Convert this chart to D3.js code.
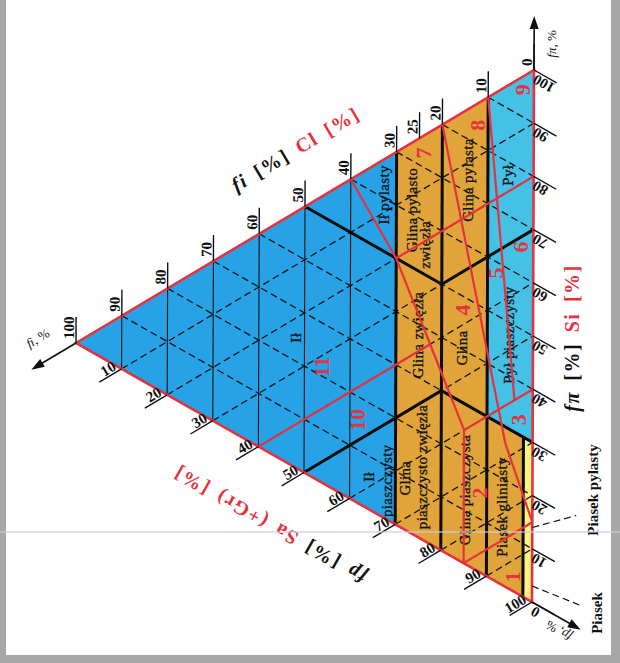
<!DOCTYPE html>
<html>
<head>
<meta charset="utf-8">
<script src="https://cdn.jsdelivr.net/npm/d3@7"></script>
<style>
  body { margin: 0; background: #fff; }
  svg { display: block; }
  text { font-family: "Liberation Serif", "DejaVu Serif", serif; }
</style>
</head>
<body>
<div id="chart"></div>
<script>
const width = 620, height = 663;

// ---------- data (all points are [clay fi, silt fπ, sand fp] in %) ----------
const gridSteps = [10, 20, 30, 40, 50, 60, 70, 80, 90];
const clayTicks = [100, 90, 80, 70, 60, 50, 40, 30, 25, 20, 10, 0];
const siltTicks = [100, 90, 80, 70, 60, 50, 40, 30, 20, 10, 0];
const sandTicks = [10, 20, 30, 40, 50, 60, 70, 80, 90, 100];

// PN-B-02480 soil groups (coloured fields)
const pnZones = [
  { group: "ił",     pts: [[100, 0, 0], [30, 70, 0], [30, 0, 70]] },
  { group: "glina",  pts: [[30, 70, 0], [10, 90, 0], [10, 0, 90], [30, 0, 70]] },
  { group: "glina",  pts: [[10, 30, 60], [2, 30, 68], [2, 0, 98], [10, 0, 90]] },
  { group: "pył",    pts: [[10, 90, 0], [0, 100, 0], [0, 30, 70], [10, 30, 60]] },
  { group: "piasek", pts: [[2, 30, 68], [0, 30, 70], [0, 0, 100], [2, 0, 98]] }
];

// PN-B-02480 boundaries (thick black)
const pnBounds = [
  [[30, 70, 0], [30, 0, 70]],
  [[20, 80, 0], [20, 0, 80]],
  [[10, 90, 0], [10, 0, 90]],
  [[2, 30, 68], [2, 0, 98]],
  [[50, 50, 0], [20, 50, 30], [0, 70, 30]],
  [[50, 0, 50], [20, 30, 50], [0, 30, 70]]
];

// PN-EN ISO 14688-2 boundaries (red)
const isoBounds = [
  [[40, 60, 0], [30, 50, 20], [22.5, 37.5, 40], [15, 25, 60], [15, 0, 85]],
  [[30, 50, 20], [0, 80, 20]],
  [[60, 0, 40], [22.5, 37.5, 40]],
  [[15, 25, 60], [0, 40, 60]],
  [[20, 80, 0], [6, 27, 67], [0, 15, 85]],
  [[10, 90, 0], [4, 36, 60]],
  [[15, 0, 85], [0, 15, 85]]
];

// PN soil names and where they sit
const pnNames = [
  { name: "Ił", at: [51.9, 24.4, 23.7] },
  { name: "Ił pylasty", at: [32.7, 60.6, 6.7] },
  { name: "Ił", at: [35.8, 6.1, 58.1] },
  { name: "piaszczysty", at: [31.8, 7.3, 60.9] },
  { name: "Glina pylasto", at: [26.6, 60.7, 12.7] },
  { name: "zwięzła", at: [23.7, 55.6, 20.7] },
  { name: "Glina pylasta", at: [14.4, 72.3, 13.3] },
  { name: "Pył", at: [5.6, 77.5, 16.9] },
  { name: "Glina zwięzła", at: [25.2, 37.9, 36.9] },
  { name: "Glina", at: [15.5, 40.2, 44.3] },
  { name: "Pył piaszczysty", at: [5.3, 47.6, 47.1] },
  { name: "Glina", at: [27.9, 9.7, 62.4] },
  { name: "piaszczysto zwięzła", at: [24.2, 13.6, 62.2] },
  { name: "Glina piaszczysta", at: [14.7, 13.9, 71.4] },
  { name: "Piasek gliniasty", at: [6.7, 14.6, 78.7] }
];

// ISO field numbers
const isoNumbers = [
  { n: "1", at: [4.2, 2.7, 93.1] },
  { n: "2", at: [11.5, 14.9, 73.6] },
  { n: "3", at: [3, 32.8, 64.2] },
  { n: "4", at: [15.4, 47.4, 37.2] },
  { n: "5", at: [8.3, 57.8, 33.9] },
  { n: "6", at: [2.9, 65.3, 31.8] },
  { n: "7", at: [24.2, 72.6, 3.2] },
  { n: "8", at: [12.4, 83.6, 4] },
  { n: "9", at: [2.4, 95.1, 2.5] },
  { n: "10", at: [38.4, 15.5, 46.1] },
  { n: "11", at: [46.2, 21.7, 32.1] }
];

// sand leaders outside the right edge
const sandLeaders = [
  { name: "Piasek pylasty", at: [0, 14, 86] },
  { name: "Piasek", at: [0, 3, 97] }
];

// ---------- styles ----------
const red = "#e6323e";
const zoneColour = { "ił": "#27a2e6", "glina": "#e0a43a", "pył": "#45c1e6", "piasek": "#fcf383" };

// triangle corners on screen (clay 100, silt 100, sand 100)
const A = [76, 343], B = [534, 70], C = [532, 602];

const siltScale = d3.scaleLinear().domain([0, 100]).range([[0, 0], [B[0] - A[0], B[1] - A[1]]]);
const sandScale = d3.scaleLinear().domain([0, 100]).range([[0, 0], [C[0] - A[0], C[1] - A[1]]]);
const proj = ([, si, sa]) => {
  const a = siltScale(si), ax = a[0], ay = a[1];
  const b = sandScale(sa);
  return [A[0] + ax + b[0], A[1] + ay + b[1]];
};
const line = d3.line();
const unit = (p, q) => { const dx = q[0] - p[0], dy = q[1] - p[1], l = Math.hypot(dx, dy); return [dx / l, dy / l]; };
const deg = u => Math.atan2(u[1], u[0]) * 180 / Math.PI;

const svg = d3.select("#chart").append("svg")
  .attr("width", width).attr("height", height);

// scanned page edges
svg.append("rect").attr("width", width).attr("height", height).attr("fill", "#a7a7a7");
svg.append("rect").attr("x", 6).attr("y", 0).attr("width", 605).attr("height", 655).attr("fill", "#fff");

// coloured fields
svg.append("g").selectAll("path")
  .data(pnZones)
  .join("path")
    .attr("d", d => line(d.pts.map(proj)) + "Z")
    .attr("fill", d => zoneColour[d.group]);

// grid: clay solid, silt + sand dashed
const grid = svg.append("g").attr("fill", "none").attr("stroke", "#141414");
grid.selectAll("path.clay").data(gridSteps).join("path")
  .attr("class", "clay")
  .attr("d", v => line([proj([v, 100 - v, 0]), proj([v, 0, 100 - v])]))
  .attr("stroke-width", 1.1);
grid.selectAll("path.silt").data(gridSteps).join("path")
  .attr("class", "silt")
  .attr("d", v => line([proj([100 - v, v, 0]), proj([0, v, 100 - v])]))
  .attr("stroke-width", 1.3).attr("stroke-dasharray", "7,4");
grid.selectAll("path.sand").data(gridSteps).join("path")
  .attr("class", "sand")
  .attr("d", v => line([proj([100 - v, 0, v]), proj([0, 100 - v, v])]))
  .attr("stroke-width", 1.3).attr("stroke-dasharray", "7,4");

// PN boundaries
svg.append("g").selectAll("path").data(pnBounds).join("path")
  .attr("d", d => line(d.map(proj)))
  .attr("fill", "none").attr("stroke", "#0b0b0b").attr("stroke-width", 3)
  .attr("stroke-linejoin", "round");

// soil names (page is turned, text reads bottom to top)
svg.append("g").selectAll("text").data(pnNames).join("text")
  .attr("transform", d => { const p = proj(d.at); return `translate(${p[0]},${p[1]}) rotate(-90)`; })
  .attr("text-anchor", "middle").attr("dominant-baseline", "central")
  .attr("font-size", 15).attr("letter-spacing", 0.3).attr("fill", "#161616")
  .attr("stroke", "#161616").attr("stroke-width", 0.35)
  .text(d => d.name);

// ISO boundaries
svg.append("g").selectAll("path").data(isoBounds).join("path")
  .attr("d", d => line(d.map(proj)))
  .attr("fill", "none").attr("stroke", red).attr("stroke-width", 2.2)
  .attr("stroke-linejoin", "round");

// triangle outline
svg.append("path")
  .attr("d", line([A, B, C]) + "Z")
  .attr("fill", "none").attr("stroke", red).attr("stroke-width", 2.6);

// ISO numbers
svg.append("g").selectAll("text").data(isoNumbers).join("text")
  .attr("transform", d => { const p = proj(d.at); return `translate(${p[0]},${p[1]}) rotate(-90)`; })
  .attr("text-anchor", "middle").attr("dominant-baseline", "central")
  .attr("font-size", 22).attr("font-weight", "bold").attr("fill", red)
  .text(d => d.n);

// ---------- ticks ----------
const tickLen = 26;
const axes = [
  { ticks: clayTicks, at: v => [v, 100 - v, 0], u: unit(C, B), turn: 0, anchor: "start" },
  { ticks: siltTicks, at: v => [0, v, 100 - v], u: unit(A, C), turn: 180, anchor: "end" },
  { ticks: sandTicks, at: v => [100 - v, 0, v], u: unit(B, A), turn: -180, anchor: "end" }
];
axes.forEach(ax => {
  const g = svg.append("g");
  const rot = deg(ax.u) + ax.turn;
  const r = rot * Math.PI / 180;
  const side = [Math.sin(r), -Math.cos(r)]; // side where glyphs sit
  g.selectAll("line").data(ax.ticks).join("line")
    .attr("x1", v => proj(ax.at(v))[0]).attr("y1", v => proj(ax.at(v))[1])
    .attr("x2", v => proj(ax.at(v))[0] + ax.u[0] * tickLen)
    .attr("y2", v => proj(ax.at(v))[1] + ax.u[1] * tickLen)
    .attr("stroke", "#111").attr("stroke-width", 1.4);
  g.selectAll("text").data(ax.ticks).join("text")
    .attr("transform", v => {
      const p = proj(ax.at(v));
      const x = p[0] + ax.u[0] * 4 + side[0] * 2, y = p[1] + ax.u[1] * 4 + side[1] * 2;
      return `translate(${x},${y}) rotate(${rot})`;
    })
    .attr("text-anchor", ax.anchor)
    .attr("font-size", 15).attr("font-weight", "bold").attr("fill", "#111")
    .text(v => v);
});

// corner arrows
const arrows = [
  { from: A, u: unit(B, A), len: 52 },
  { from: B, u: unit(C, B), len: 54 },
  { from: C, u: unit(A, C), len: 56 }
];
arrows.forEach(a => {
  const end = [a.from[0] + a.u[0] * a.len, a.from[1] + a.u[1] * a.len];
  const n = [-a.u[1], a.u[0]];
  svg.append("line")
    .attr("x1", a.from[0]).attr("y1", a.from[1]).attr("x2", end[0] - a.u[0] * 6).attr("y2", end[1] - a.u[1] * 6)
    .attr("stroke", "#111").attr("stroke-width", 1.6);
  svg.append("path")
    .attr("d", line([end,
      [end[0] - a.u[0] * 13 + n[0] * 4.5, end[1] - a.u[1] * 13 + n[1] * 4.5],
      [end[0] - a.u[0] * 13 - n[0] * 4.5, end[1] - a.u[1] * 13 - n[1] * 4.5]]) + "Z")
    .attr("fill", "#111");
});

// corner labels
const cornerText = (x, y, rot, parts) => {
  const t = svg.append("text")
    .attr("transform", `translate(${x},${y}) rotate(${rot})`)
    .attr("text-anchor", "middle").attr("font-size", 13).attr("fill", "#111");
  parts.forEach(p => t.append("tspan").attr("font-style", p[1] ? "italic" : null).text(p[0]));
};
cornerText(40, 342, -31, [["f", 1], ["i", 1], [", %", 0]]);
cornerText(556, 44, -90, [["f", 1], ["π", 1], [", %", 0]]);
cornerText(561, 627, 210, [["f", 1], ["p", 1], [", %", 0]]);

// axis titles
const title = (x, y, rot, black, redPart) => {
  const t = svg.append("text")
    .attr("transform", `translate(${x},${y}) rotate(${rot})`)
    .attr("text-anchor", "middle").attr("font-size", 20).attr("font-weight", "bold")
    .attr("letter-spacing", 1.5).attr("word-spacing", 4);
  t.append("tspan").attr("font-style", "italic").attr("fill", "#111").text(black[0]);
  t.append("tspan").attr("fill", "#111").text(black[1]);
  t.append("tspan").attr("fill", red).text(redPart);
};
title(299, 155, -30.8, ["fi", " [%] "], "Cl [%]");
title(579, 338, -90, ["fπ", " [%] "], "Si [%]");
title(273, 519, 209.5, ["fp", " [%] "], "Sa (+Gr) [%]");

// sand leaders
const leaderDir = [[44, -12], [50, 20]];
sandLeaders.forEach((d, i) => {
  const p = proj(d.at);
  svg.append("line")
    .attr("x1", p[0]).attr("y1", p[1])
    .attr("x2", p[0] + leaderDir[i][0]).attr("y2", p[1] + leaderDir[i][1])
    .attr("stroke", "#111").attr("stroke-width", 1.2).attr("stroke-dasharray", "7,4");
});
svg.append("text")
  .attr("transform", "translate(598,490) rotate(-90)")
  .attr("text-anchor", "middle").attr("font-size", 15).attr("font-weight", "bold").attr("fill", "#111")
  .text(sandLeaders[0].name);
svg.append("text")
  .attr("transform", "translate(602,613) rotate(-90)")
  .attr("text-anchor", "middle").attr("font-size", 15).attr("font-weight", "bold").attr("fill", "#111")
  .text(sandLeaders[1].name);

// scanner streak
svg.append("line")
  .attr("x1", 0).attr("x2", width).attr("y1", 532).attr("y2", 532)
  .attr("stroke", "#c9cde3").attr("stroke-width", 1.5).attr("opacity", 0.8);
</script>
</body>
</html>
